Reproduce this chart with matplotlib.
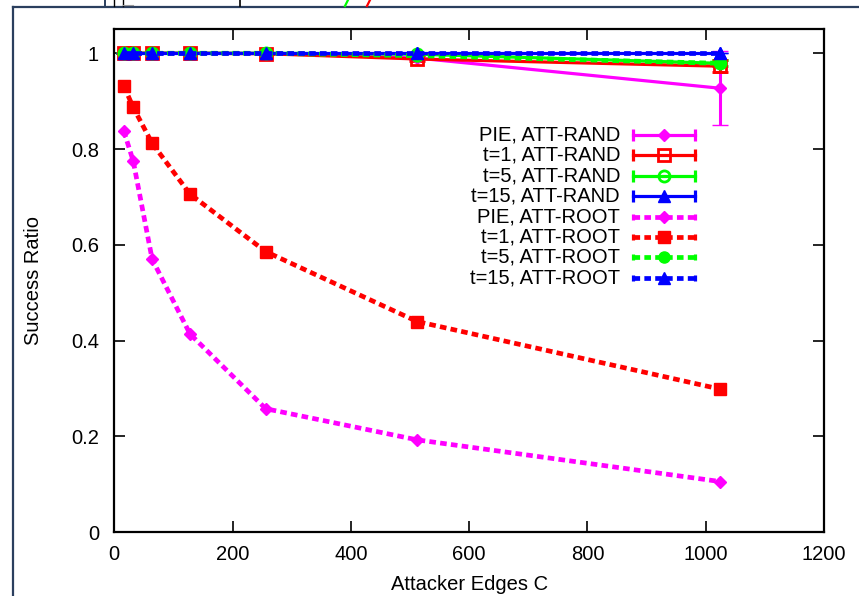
import matplotlib
matplotlib.use("Agg")
import matplotlib.pyplot as plt
from matplotlib.lines import Line2D

plt.rcParams["font.family"] = ["Liberation Sans", "DejaVu Sans"]

# ---- data ----
attacker_edges = [16, 32, 64, 128, 256, 512, 1024]

pie_rand = [1.0, 1.0, 1.0, 1.0, 1.0, 0.99, 0.927]
pie_rand_err = [0.0, 0.0, 0.0, 0.0, 0.0, 0.004, 0.077]
t1_rand = [1.0, 1.0, 1.0, 1.0, 0.999, 0.988, 0.973]
t1_rand_err = [0.0, 0.0, 0.0, 0.0, 0.0, 0.004, 0.012]
t5_rand = [1.0, 1.0, 1.0, 1.0, 1.0, 0.998, 0.979]
t5_rand_err = [0.0, 0.0, 0.0, 0.0, 0.0, 0.002, 0.006]
t15_rand = [1.0, 1.0, 1.0, 1.0, 1.0, 1.0, 1.0]
t15_rand_err = [0.0, 0.0, 0.0, 0.0, 0.0, 0.0, 0.0]

pie_root = [0.838, 0.775, 0.570, 0.414, 0.258, 0.193, 0.106]
pie_root_err = [0.009, 0.004, 0.004, 0.003, 0.002, 0.002, 0.002]
t1_root = [0.932, 0.887, 0.812, 0.706, 0.586, 0.440, 0.299]
t1_root_err = [0.002, 0.002, 0.002, 0.002, 0.002, 0.002, 0.002]
t5_root = [1.0, 1.0, 1.0, 1.0, 1.0, 0.995, 0.979]
t5_root_err = [0.0, 0.0, 0.0, 0.0, 0.0, 0.002, 0.002]
t15_root = [1.0, 1.0, 1.0, 1.0, 1.0, 1.0, 1.0]
t15_root_err = [0.0, 0.0, 0.0, 0.0, 0.0, 0.0, 0.0]

MAGENTA = "#ff00ff"
RED = "#ff0000"
GREEN = "#00ff00"
BLUE = "#0000ff"

# label, y, err, color, marker, open marker, dashed
series = [
    ("PIE, ATT-RAND", pie_rand, pie_rand_err, MAGENTA, "D", False, False),
    ("t=1, ATT-RAND", t1_rand, t1_rand_err, RED, "s", True, False),
    ("t=5, ATT-RAND", t5_rand, t5_rand_err, GREEN, "o", True, False),
    ("t=15, ATT-RAND", t15_rand, t15_rand_err, BLUE, "^", False, False),
    ("PIE, ATT-ROOT", pie_root, pie_root_err, MAGENTA, "D", False, True),
    ("t=1, ATT-ROOT", t1_root, t1_root_err, RED, "s", False, True),
    ("t=5, ATT-ROOT", t5_root, t5_root_err, GREEN, "o", False, True),
    ("t=15, ATT-ROOT", t15_root, t15_root_err, BLUE, "^", False, True),
]

W, H = 859, 596
fig = plt.figure(figsize=(W / 100, H / 100), dpi=100)
ax = fig.add_axes([114.3 / W, 1 - 532.3 / H, 709.7 / W, 503 / H])


def style(color, marker, hollow, dashed):
    kw = dict(color=color, marker=marker, markersize=8 if marker != "D" else 6.5,
              markeredgecolor=color, markeredgewidth=2 if hollow else 1,
              markerfacecolor="none" if hollow else color)
    if dashed:
        kw.update(linewidth=3.4, linestyle=(0, (1.4, 0.9)), dash_capstyle="butt")
    else:
        kw.update(linewidth=2.3, linestyle="-")
    return kw


for label, ys, err, color, marker, hollow, dashed in series:
    kw = style(color, marker, hollow, dashed)
    ax.errorbar(attacker_edges, ys, yerr=err, ecolor=color, elinewidth=2.2,
                capsize=0 if dashed else 6, capthick=2.2, **kw)

ax.set_xlim(0, 1200)
ax.set_ylim(0, 1.05)
ax.set_xticks([0, 200, 400, 600, 800, 1000, 1200])
ax.set_yticks([0, 0.2, 0.4, 0.6, 0.8, 1.0])
ax.set_yticklabels(["0", "0.2", "0.4", "0.6", "0.8", "1"])
ax.tick_params(direction="in", length=8, width=1.2, top=True, right=True,
               labelsize=14.5, colors="black")
ax.tick_params(axis="x", pad=9)
ax.tick_params(axis="y", pad=11)
for sp in ax.spines.values():
    sp.set_linewidth(1.6)

ax.set_xlabel("Attacker Edges C", fontsize=14.5)
ax.set_ylabel("Success Ratio", fontsize=14.5)
ax.xaxis.set_label_coords(0.5, -0.085)
ax.yaxis.set_label_coords(-0.1, 0.5)

# ---- gnuplot-style key: text right-aligned, sample on the right ----
key_text_x = 0.7126
key_x0, key_x1 = 0.731, 0.818
key_top, key_step = 0.790, 0.0406
for i, (label, ys, err, color, marker, hollow, dashed) in enumerate(series):
    yk = key_top - i * key_step
    ax.text(key_text_x, yk, label, transform=ax.transAxes, ha="right",
            va="center", fontsize=14.5)
    ax.plot([key_x0, key_x1], [yk, yk], transform=ax.transAxes, clip_on=False,
            **style(color, "None", False, dashed))
    ax.plot([key_x0, key_x1], [yk, yk], transform=ax.transAxes, clip_on=False,
            linestyle="None", marker="|", markersize=9 if not dashed else 5,
            markeredgewidth=2.3, color=color)
    mk = {k: v for k, v in style(color, marker, hollow, dashed).items()
          if k.startswith("marker") or k == "color"}
    ax.plot([(key_x0 + key_x1) / 2], [yk], transform=ax.transAxes, clip_on=False,
            linestyle="None", **mk)

# ---- frame of the surrounding page (cropped) ----
def px(x, y):
    return x / W, 1 - y / H

navy = "#2b3f5e"
fig.add_artist(Line2D(*zip(px(13, 7), px(13, 596)), color=navy, linewidth=1.6))
fig.add_artist(Line2D(*zip(px(13, 7), px(859, 7)), color=navy, linewidth=1.6))
fig.add_artist(Line2D(*zip(px(105, 0), px(105, 6)), color=navy, linewidth=1.4))
fig.add_artist(Line2D(*zip(px(114, 0), px(114, 6)), color="black", linewidth=1.0))
fig.add_artist(Line2D(*zip(px(123, 0), px(123, 6)), color="black", linewidth=1.0))
fig.add_artist(Line2D(*zip(px(123, 5), px(133, 5)), color="#999999", linewidth=0.8))
fig.add_artist(Line2D(*zip(px(240, 0), px(240, 6)), color="black", linewidth=1.2))
fig.add_artist(Line2D(*zip(px(348, 0), px(345, 6)), color=GREEN, linewidth=1.6))
fig.add_artist(Line2D(*zip(px(370, 0), px(367, 6)), color=RED, linewidth=1.6))

fig.savefig("out.png", dpi=100)
